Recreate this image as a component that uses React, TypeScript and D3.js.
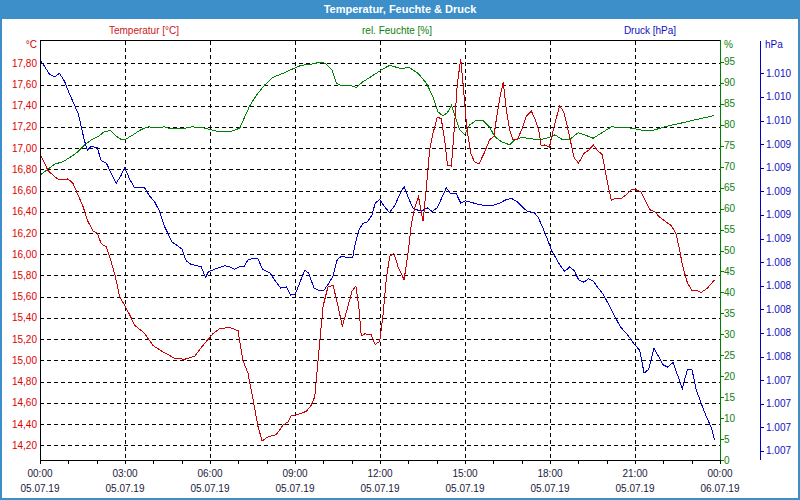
import React from "react";
import * as d3 from "d3";

const temperature: [number, number][] = [
  [0, 16.95], [0.28, 16.79], [0.52, 16.73], [0.7, 16.7], [0.99, 16.71], [1.16, 16.67], [1.34, 16.56],
  [1.52, 16.45], [1.67, 16.32], [1.87, 16.22], [2.02, 16.2], [2.16, 16.1], [2.34, 16.07], [2.49, 15.95],
  [2.66, 15.79], [2.81, 15.6], [3.01, 15.51], [3.2, 15.41], [3.34, 15.33], [3.67, 15.26], [3.99, 15.14],
  [4.34, 15.08], [4.75, 15.02], [5.1, 15.01], [5.46, 15.04], [5.75, 15.14], [6.1, 15.25], [6.34, 15.3],
  [6.7, 15.31], [6.99, 15.28], [7.16, 15.0], [7.34, 14.88], [7.52, 14.63], [7.69, 14.38], [7.84, 14.24],
  [8.05, 14.28], [8.34, 14.3], [8.58, 14.39], [8.75, 14.42], [8.87, 14.48], [9.11, 14.49], [9.4, 14.52],
  [9.58, 14.58], [9.7, 14.66], [9.75, 14.81], [9.87, 15.16], [9.99, 15.51], [10.16, 15.69], [10.34, 15.71],
  [10.52, 15.51], [10.67, 15.32], [10.87, 15.51], [11.01, 15.65], [11.15, 15.7], [11.25, 15.51], [11.34, 15.23],
  [11.46, 15.25], [11.69, 15.24], [11.83, 15.15], [11.99, 15.18], [12.1, 15.41], [12.22, 15.76], [12.34, 15.98],
  [12.49, 16.01], [12.64, 15.88], [12.85, 15.76], [12.99, 16.01], [13.11, 16.29], [13.22, 16.43], [13.36, 16.54],
  [13.52, 16.31], [13.64, 16.64], [13.75, 16.98], [13.87, 17.14], [14.02, 17.29], [14.16, 17.28], [14.28, 17.08],
  [14.38, 16.84], [14.52, 16.83], [14.61, 17.14], [14.73, 17.61], [14.85, 17.84], [14.94, 17.58], [15.06, 17.2],
  [15.2, 16.95], [15.34, 16.87], [15.49, 16.85], [15.67, 16.95], [15.87, 17.08], [16.02, 17.11], [16.12, 17.3],
  [16.24, 17.49], [16.35, 17.62], [16.46, 17.36], [16.58, 17.17], [16.69, 17.08], [16.85, 17.08], [17.01, 17.18],
  [17.16, 17.3], [17.34, 17.35], [17.48, 17.27], [17.6, 17.17], [17.69, 17.02], [17.81, 17.03], [17.98, 17.01],
  [18.14, 17.2], [18.34, 17.4], [18.49, 17.34], [18.64, 17.17], [18.85, 16.91], [19.01, 16.86], [19.2, 16.95],
  [19.36, 16.98], [19.53, 17.03], [19.67, 16.98], [19.84, 16.94], [19.99, 16.73], [20.16, 16.51], [20.34, 16.53],
  [20.54, 16.53], [20.73, 16.57], [20.87, 16.61], [21.01, 16.61], [21.2, 16.59], [21.34, 16.52], [21.52, 16.42],
  [21.7, 16.4], [21.87, 16.35], [22.07, 16.31], [22.28, 16.27], [22.44, 16.2], [22.55, 16.07], [22.69, 15.88],
  [22.85, 15.73], [23.01, 15.66], [23.16, 15.66], [23.34, 15.64], [23.55, 15.68], [23.81, 15.76],
];

const humidity: [number, number][] = [
  [0, 68.0], [0.28, 69.4], [0.52, 70.6], [0.81, 71.2], [1.1, 72.4], [1.34, 73.6], [1.58, 75.2], [1.81, 76.4],
  [2.05, 77.2], [2.28, 78.4], [2.49, 78.6], [2.69, 77.3], [2.87, 76.5], [3.01, 76.5], [3.28, 77.6], [3.58, 78.9],
  [3.81, 79.5], [4.11, 79.4], [4.4, 79.5], [4.64, 79.0], [4.99, 79.0], [5.34, 79.5], [5.69, 79.4], [6.05, 78.8],
  [6.34, 78.3], [6.7, 78.3], [7.05, 79.2], [7.22, 81.8], [7.4, 84.5], [7.64, 87.1], [7.93, 89.5], [8.22, 91.3],
  [8.58, 92.3], [8.87, 93.2], [9.22, 94.2], [9.58, 94.5], [9.87, 94.9], [10.07, 94.7], [10.31, 93.1], [10.46, 89.9],
  [10.64, 89.3], [10.93, 89.5], [11.16, 88.9], [11.4, 90.3], [11.69, 91.5], [12.05, 93.1], [12.34, 94.2],
  [12.7, 93.5], [13.05, 93.6], [13.34, 92.3], [13.64, 89.9], [13.87, 86.7], [14.05, 83.1], [14.22, 82.1],
  [14.38, 82.9], [14.52, 84.7], [14.66, 81.9], [14.81, 78.8], [14.99, 77.7], [15.17, 80.0], [15.4, 81.1],
  [15.64, 81.0], [15.87, 79.4], [16.05, 77.2], [16.28, 76.0], [16.58, 75.2], [16.75, 76.4], [16.99, 77.0],
  [17.34, 76.7], [17.58, 76.4], [17.81, 76.7], [18.05, 77.2], [18.17, 77.6], [18.46, 76.4], [18.7, 76.5],
  [18.99, 78.1], [19.22, 77.6], [19.52, 76.8], [19.81, 78.0], [20.16, 79.5], [20.52, 79.4], [20.87, 79.2],
  [21.17, 78.8], [21.46, 78.5], [21.7, 78.8], [21.99, 79.4], [22.34, 80.0], [22.69, 80.5], [23.05, 81.1],
  [23.4, 81.6], [23.79, 82.2],
];

const pressure: [number, number][] = [
  [0, 1010.11], [0.16, 1010.06], [0.34, 1009.99], [0.52, 1009.97], [0.69, 1010.0], [0.87, 1009.93], [1.05, 1009.82],
  [1.22, 1009.73], [1.36, 1009.65], [1.48, 1009.52], [1.58, 1009.42], [1.67, 1009.35], [1.81, 1009.38],
  [2.02, 1009.37], [2.16, 1009.26], [2.34, 1009.24], [2.52, 1009.15], [2.69, 1009.07], [2.85, 1009.13],
  [2.99, 1009.2], [3.17, 1009.1], [3.34, 1009.03], [3.69, 1009.03], [3.87, 1008.96], [4.05, 1008.91],
  [4.22, 1008.83], [4.38, 1008.71], [4.52, 1008.64], [4.66, 1008.57], [4.85, 1008.54], [5.01, 1008.51],
  [5.16, 1008.41], [5.34, 1008.38], [5.52, 1008.37], [5.69, 1008.36], [5.84, 1008.27], [5.95, 1008.32],
  [6.07, 1008.33], [6.16, 1008.34], [6.52, 1008.37], [6.69, 1008.36], [6.87, 1008.34], [7.05, 1008.36],
  [7.2, 1008.36], [7.34, 1008.42], [7.52, 1008.43], [7.69, 1008.43], [7.85, 1008.34], [8.11, 1008.31],
  [8.28, 1008.25], [8.49, 1008.18], [8.69, 1008.19], [8.85, 1008.12], [9.01, 1008.13], [9.16, 1008.22],
  [9.34, 1008.33], [9.48, 1008.31], [9.67, 1008.18], [9.84, 1008.16], [10.02, 1008.16], [10.19, 1008.22],
  [10.34, 1008.28], [10.49, 1008.42], [10.64, 1008.45], [10.85, 1008.44], [11.04, 1008.44], [11.11, 1008.54],
  [11.25, 1008.67], [11.4, 1008.73], [11.55, 1008.74], [11.72, 1008.8], [11.83, 1008.9], [11.99, 1008.93],
  [12.16, 1008.87], [12.34, 1008.82], [12.52, 1008.88], [12.69, 1008.97], [12.85, 1009.04], [13.01, 1008.94],
  [13.16, 1008.86], [13.34, 1008.84], [13.52, 1008.84], [13.67, 1008.86], [13.84, 1008.83], [14.02, 1008.86],
  [14.19, 1008.95], [14.34, 1009.03], [14.49, 1008.98], [14.69, 1008.98], [14.85, 1008.9], [15.01, 1008.92],
  [15.17, 1008.91], [15.46, 1008.89], [15.69, 1008.88], [15.99, 1008.88], [16.22, 1008.9], [16.46, 1008.93],
  [16.64, 1008.94], [16.85, 1008.91], [17.01, 1008.87], [17.2, 1008.83], [17.44, 1008.82], [17.58, 1008.78],
  [17.75, 1008.69], [17.9, 1008.6], [18.07, 1008.49], [18.17, 1008.45], [18.34, 1008.38], [18.52, 1008.32],
  [18.69, 1008.36], [18.85, 1008.33], [19.01, 1008.25], [19.2, 1008.23], [19.36, 1008.26], [19.53, 1008.24],
  [19.67, 1008.19], [19.87, 1008.13], [20.05, 1008.05], [20.26, 1007.95], [20.49, 1007.85], [20.75, 1007.78],
  [20.96, 1007.71], [21.17, 1007.65], [21.32, 1007.46], [21.48, 1007.49], [21.67, 1007.67], [21.81, 1007.61],
  [21.99, 1007.53], [22.16, 1007.51], [22.34, 1007.55], [22.52, 1007.43], [22.67, 1007.33], [22.85, 1007.49],
  [23.01, 1007.49], [23.16, 1007.32], [23.34, 1007.2], [23.52, 1007.09], [23.69, 1007.0], [23.81, 1006.89],
];

const tempTicks = d3.range(0, 19).map((i) => +(14.2 + i * 0.2).toFixed(2));
const humTicks = d3.range(0, 20).map((i) => i * 5);
const presTicks = d3.range(0, 17).map((i) => +(1006.8 + i * 0.2).toFixed(1));
const timeTickHours = [0, 3, 6, 9, 12, 15, 18, 21, 24];
const minorTickHours = d3.range(0, 25);

const title = "Temperatur, Feuchte & Druck";
const seriesNames = ["Temperatur [°C]", "rel. Feuchte [%]", "Druck [hPa]"];

const start = new Date(2019, 6, 5, 0, 0, 0);
const toDate = (h: number) => new Date(start.getTime() + h * 3600 * 1000);

const de = d3.formatLocale({ decimal: ",", thousands: ".", grouping: [3], currency: ["", " €"] });
const fmtTemp = de.format(".2f");
const fmtPres = de.format(",.0f");
const fmtHM = d3.timeFormat("%H:%M");
const fmtDate = d3.timeFormat("%d.%m.%y");

const L = 40, R = 720, T = 41, B = 460;
const FONT = "'Liberation Sans', Arial, sans-serif";
const BLUE = "#3c8fc8";

export default function App() {
  const x = d3.scaleTime().domain([start, toDate(24)]).range([L, R]);
  const yT = d3.scaleLinear().domain([14.061, 18.01]).range([B, T]);
  const yH = d3.scaleLinear().domain([0, 100]).range([B, T]);
  const yP = d3.scaleLinear().domain([1006.723, 1010.274]).range([B, T]);

  const lineT = d3.line<[number, number]>().x((d) => x(toDate(d[0]))).y((d) => yT(d[1]));
  const lineH = d3.line<[number, number]>().x((d) => x(toDate(d[0]))).y((d) => yH(d[1]));
  const lineP = d3.line<[number, number]>().x((d) => x(toDate(d[0]))).y((d) => yP(d[1]));

  const px = (v: number) => Math.round(v) + 0.5;

  return (
    <svg width={800} height={500} style={{ position: "absolute", left: 0, top: 0, background: "#fff" }} fontFamily={FONT}>
      <rect x={0} y={0} width={800} height={500} fill="#fff" />
      <rect x={0} y={0} width={800} height={19} fill={BLUE} />
      <rect x={1} y={1} width={798} height={498} fill="none" stroke={BLUE} strokeWidth={2} />
      <text x={400} y={13} textAnchor="middle" fill="#fff" fontWeight="bold" fontSize={11}>{title}</text>

      <text x={144} y={34} textAnchor="middle" fill="#cc2020" fontSize={10}>{seriesNames[0]}</text>
      <text x={397} y={34} textAnchor="middle" fill="#108010" fontSize={10}>{seriesNames[1]}</text>
      <text x={650} y={34} textAnchor="middle" fill="#1010c0" fontSize={10}>{seriesNames[2]}</text>

      {/* horizontal grid */}
      <g shapeRendering="crispEdges">
        {tempTicks.map((t) => (
          <line key={"hg" + t} x1={L} x2={R} y1={px(yT(t))} y2={px(yT(t))} stroke="#000" strokeDasharray="4,3" />
        ))}
        {timeTickHours.slice(1, -1).map((h) => (
          <line key={"vg" + h} x1={px(x(toDate(h)))} x2={px(x(toDate(h)))} y1={T} y2={B} stroke="#000" strokeDasharray="4,3" />
        ))}
      </g>

      {/* series */}
      <g fill="none" strokeWidth={1} shapeRendering="crispEdges">
        <path d={lineH(humidity) || ""} stroke="#008000" />
        <path d={lineP(pressure) || ""} stroke="#0000cc" />
        <path d={lineT(temperature) || ""} stroke="#cc0000" />
      </g>

      {/* frame */}
      <g shapeRendering="crispEdges">
        <line x1={L} x2={R} y1={px(T - 1)} y2={px(T - 1)} stroke="#000" />
        <line x1={px(L)} x2={px(L)} y1={T - 1} y2={B + 1} stroke="#000" />
        <line x1={L} x2={R + 1} y1={px(B)} y2={px(B)} stroke="#000" />
        <line x1={px(R)} x2={px(R)} y1={T - 1} y2={B + 1} stroke="#008000" />
        <line x1={px(760)} x2={px(760)} y1={T} y2={B} stroke="#0000cc" />
      </g>

      {/* left axis labels */}
      <text x={37} y={48} textAnchor="end" fill="#cc0000" fontSize={10}>°C</text>
      {tempTicks.map((t) => (
        <text key={"tl" + t} x={37} y={yT(t) + 3.5} textAnchor="end" fill="#e00000" fontSize={10}>{fmtTemp(t)}</text>
      ))}

      {/* humidity axis */}
      <g shapeRendering="crispEdges">
        {humTicks.map((t) => (
          <line key={"ht" + t} x1={R} x2={R + 4} y1={px(yH(t))} y2={px(yH(t))} stroke="#008000" />
        ))}
      </g>
      <text x={724} y={48} fill="#108010" fontSize={10}>%</text>
      {humTicks.map((t) => (
        <text key={"hl" + t} x={724} y={yH(t) + 3.5} fill="#108010" fontSize={10}>{t}</text>
      ))}

      {/* pressure axis */}
      <g shapeRendering="crispEdges">
        {presTicks.map((t) => (
          <line key={"pt" + t} x1={760} x2={764} y1={px(yP(t))} y2={px(yP(t))} stroke="#0000cc" />
        ))}
      </g>
      <text x={765} y={48} fill="#1010c0" fontSize={10}>hPa</text>
      {presTicks.map((t) => (
        <text key={"pl" + t} x={766} y={yP(t) + 3.5} fill="#1010c0" fontSize={10}>{fmtPres(t)}</text>
      ))}

      {/* time axis */}
      <g shapeRendering="crispEdges">
        {minorTickHours.map((h) => (
          <line key={"mt" + h} x1={px(x(toDate(h)))} x2={px(x(toDate(h)))} y1={B} y2={B + 4} stroke="#000" />
        ))}
      </g>
      {timeTickHours.map((h) => (
        <g key={"tt" + h}>
          <text x={x(toDate(h))} y={477} textAnchor="middle" fill="#1a1a3a" fontSize={10}>{fmtHM(toDate(h))}</text>
          <text x={x(toDate(h))} y={492} textAnchor="middle" fill="#1a1a3a" fontSize={10}>{fmtDate(toDate(h))}</text>
        </g>
      ))}
    </svg>
  );
}
